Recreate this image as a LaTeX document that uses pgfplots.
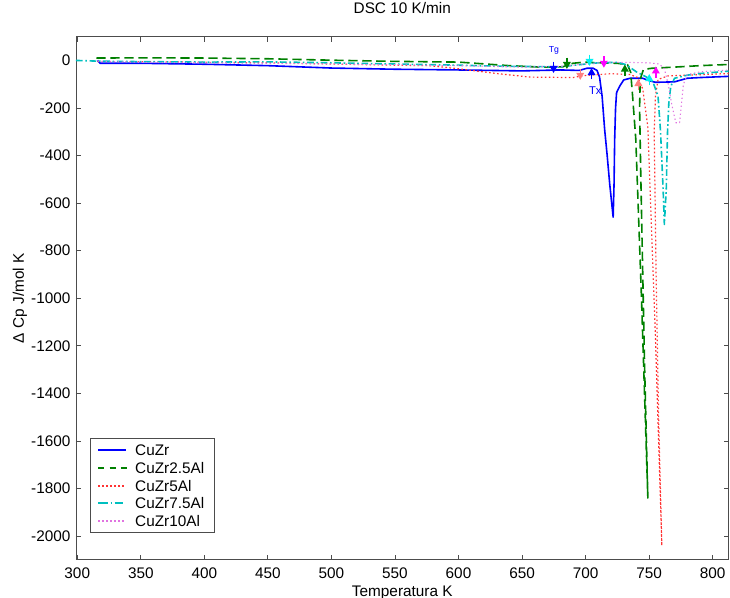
\documentclass[border=0pt]{standalone}
\usepackage{fontspec}
\setmainfont{Liberation Sans}
\usepackage{pgfplots}
\pgfplotsset{compat=1.18}
\usepackage{pgfplotstable}

\definecolor{lineblue}{rgb}{0,0,1}
\definecolor{linegreen}{rgb}{0,0.5,0}
\definecolor{linered}{rgb}{1,0.2,0.2}
\definecolor{linecyan}{rgb}{0,0.75,0.75}
\definecolor{linemag}{rgb}{0.88,0.45,0.88}
\definecolor{markred}{rgb}{1,0.5,0.5}
\definecolor{markcyan}{rgb}{0,0.95,0.95}
\definecolor{markmag}{rgb}{1,0,1}
\definecolor{axgray}{rgb}{0.3,0.3,0.3}

\pgfdeclareplotmark{dnarrow}{%
  \pgfsetlinewidth{1pt}%
  \pgfpathmoveto{\pgfqpoint{0pt}{4.2pt}}\pgfpathlineto{\pgfqpoint{0pt}{0.5pt}}\pgfusepathqstroke
  \pgfpathmoveto{\pgfqpoint{-3pt}{1pt}}\pgfpathlineto{\pgfqpoint{3pt}{1pt}}\pgfpathlineto{\pgfqpoint{0pt}{-4.2pt}}\pgfpathclose\pgfusepathqfill
}
\pgfdeclareplotmark{uparrow}{%
  \pgfsetlinewidth{1pt}%
  \pgfpathmoveto{\pgfqpoint{0pt}{-4.2pt}}\pgfpathlineto{\pgfqpoint{0pt}{-0.5pt}}\pgfusepathqstroke
  \pgfpathmoveto{\pgfqpoint{-3pt}{-1pt}}\pgfpathlineto{\pgfqpoint{3pt}{-1pt}}\pgfpathlineto{\pgfqpoint{0pt}{4.2pt}}\pgfpathclose\pgfusepathqfill
}

\pgfplotstableread{
T y
316 0
318 -12
350 -12
400 -16
450 -22
500 -32
550 -37
600 -40
650 -44
680 -40
695 -42
701 -33
706 -33
709 -42
711 -70
713 -150
715 -290
717 -400
719 -520
721.7 -659
722.4 -520
722.9 -330
723.6 -200
724.4 -135
727 -107
730 -82
735 -75
745 -75
750 -85
755 -92
770 -90
780 -75
790 -72
812.5 -67
}\cuzr

\pgfplotstableread{
T y
315 10
350 11
400 10
450 7
500 1
550 -4
600 -7
640 -22
664 -28
682 -27
690 -12
699 -7
710 -10
725 -12
733 -18
735.5 -50
737 -150
739.5 -330
744 -1000
749 -1840
746.5 -1300
743.5 -500
742.5 -200
743 -80
745.5 -38
752 -33
770 -28
790 -22
812.5 -17
}\cuzrA

\pgfplotstableread{
T y
316 -5
350 -5
400 -8
450 -10
500 -15
550 -20
577 -22
600 -35
630 -55
656 -70
690 -72
700 -63
720 -56
735 -59
741 -72
745 -120
749 -280
755 -1169
760 -2040
757.5 -1500
755.5 -900
754 -300
755 -150
757 -80
765 -65
790 -60
812.5 -55
}\cuzrB

\pgfplotstableread{
T y
299 0
316 -3
350 -5
400 -7
450 -6
500 -10
550 -15
600 -20
630 -24
680 -27
695 -18
710 -10
725 -8
732 -18
740 -48
748 -70
753 -90
757 -150
759 -300
761 -540
762 -690
763.5 -540
764.5 -300
765.5 -180
767 -110
770 -75
780 -62
790 -55
812.5 -45
}\cuzrC

\pgfplotstableread{
T y
316 -3
350 -8
400 -10
450 -12
500 -15
550 -18
600 -22
650 -28
680 -25
700 -15
715 -8
730 -8
750 -10
758 -15
762 -35
765 -100
768 -190
771 -262
774 -262
775.5 -180
777 -100
780 -60
790 -48
812.5 -40
}\cuzrD

\begin{document}
\begin{tikzpicture}
\begin{axis}[
  name=ax,
  scale only axis,
  width=489.5pt, height=392.5pt,
  xmin=299, xmax=812.5, ymin=-2100, ymax=100,
  xtick={300,350,400,450,500,550,600,650,700,750,800},
  xticklabels={300,350,400,450,500,550,600,650,700,750,800},
  ytick={-2000,-1800,-1600,-1400,-1200,-1000,-800,-600,-400,-200,0},
  yticklabels={-2000,-1800,-1600,-1400,-1200,-1000,-800,-600,-400,-200,0},
  tick align=inside,
  major tick length=3.75pt,
  minor tick num=0,
  tick style={axgray, line width=0.6pt},
  axis line style={axgray, line width=0.6pt},
  tick label style={font=\fontsize{11.5}{13}\selectfont, text=black},
  xticklabel style={anchor=base, yshift=-14pt, inner sep=0pt},
  yticklabel style={anchor=east, inner sep=0pt, xshift=-4pt},
  title={DSC 10 K/min},
  title style={at={(0.5,1)}, anchor=base, yshift=11pt, font=\fontsize{11.5}{13}\selectfont},
  xlabel={Temperatura K},
  xlabel style={at={(0.5,0)}, anchor=base, yshift=-27.6pt, font=\fontsize{11.5}{13}\selectfont},
  ylabel={Δ Cp J/mol K},
  ylabel style={at={(-0.0858,0.5)}, anchor=center, font=\fontsize{11.5}{13}\selectfont},
]
\addplot[lineblue, line width=1.2pt, solid, line join=round] table[x=T,y=y] {\cuzr};
\addplot[linegreen, line width=1.2pt, dash pattern=on 7pt off 3.5pt, line join=round] table[x=T,y=y] {\cuzrA};
\addplot[linered, line width=0.9pt, dash pattern=on 1.2pt off 1.8pt, line join=round] table[x=T,y=y] {\cuzrB};
\addplot[linecyan, line width=1.2pt, dash pattern=on 5pt off 2pt on 1.2pt off 2pt, line join=round] table[x=T,y=y] {\cuzrC};
\addplot[linemag, line width=0.8pt, dash pattern=on 1pt off 2pt, line join=round] table[x=T,y=y] {\cuzrD};

% Tg markers (down arrows)
\addplot[only marks, mark=dnarrow, color=lineblue] coordinates {(674.8,-29)};
\addplot[only marks, mark=dnarrow, color=linegreen] coordinates {(685.3,-12)};
\addplot[only marks, mark=dnarrow, color=markred] coordinates {(695.8,-58)};
\addplot[only marks, mark=dnarrow, color=markcyan] coordinates {(703.1,1)};
\addplot[only marks, mark=dnarrow, color=markmag] coordinates {(714.4,-7)};
% Tx markers (up arrows)
\addplot[only marks, mark=uparrow, color=lineblue] coordinates {(704.7,-56)};
\addplot[only marks, mark=uparrow, color=linegreen] coordinates {(730.9,-41)};
\addplot[only marks, mark=uparrow, color=markred] coordinates {(741.5,-102)};
\addplot[only marks, mark=uparrow, color=markcyan] coordinates {(750.1,-81)};
\addplot[only marks, mark=uparrow, color=markmag] coordinates {(755.3,-49)};

\node[text=lineblue, font=\fontsize{6.5}{7}\selectfont, inner sep=0pt] at (axis cs:675.1,40) {Tg};
\node[text=lineblue, font=\fontsize{8.4}{9}\selectfont, inner sep=0pt] at (axis cs:707.7,-127) {Tx};
\end{axis}
% legend drawn by hand
\begin{scope}[shift={(ax.south west)}, font=\fontsize{11.5}{13}\selectfont]
  \draw[axgray, line width=0.6pt, fill=white] (10.5pt,20.8pt) rectangle (103.5pt,90.8pt);
  \draw[lineblue, line width=1.2pt] (16.7pt,82.5pt) -- (37.3pt,82.5pt);
  \foreach \x in {16.7,25.2,33.7} {\draw[linegreen, line width=1.2pt] (\x pt,68.8pt) -- ++(4.6pt,0pt);}
  \foreach \x in {16.7,19.7,22.7,25.7,28.7,31.7,34.7} {\draw[linered, line width=0.9pt] (\x pt,55.5pt) -- ++(1.2pt,0pt);}
  \draw[linecyan, line width=1.2pt] (16.7pt,42.5pt) -- ++(7.5pt,0pt);
  \draw[linecyan, line width=1.2pt] (26pt,42.5pt) -- ++(1.2pt,0pt);
  \draw[linecyan, line width=1.2pt] (29pt,42.5pt) -- ++(6.3pt,0pt);
  \foreach \x in {16.7,19.7,22.7,25.7,28.7,31.7,34.7} {\draw[linemag, line width=0.9pt] (\x pt,29.25pt) -- ++(1.2pt,0pt);}
  \node[anchor=west, inner sep=0pt] at (44.25pt,82.5pt) {CuZr};
  \node[anchor=west, inner sep=0pt] at (44.25pt,68.8pt) {CuZr2.5Al};
  \node[anchor=west, inner sep=0pt] at (44.25pt,55.5pt) {CuZr5Al};
  \node[anchor=west, inner sep=0pt] at (44.25pt,42.5pt) {CuZr7.5Al};
  \node[anchor=west, inner sep=0pt] at (44.25pt,29.25pt) {CuZr10Al};
\end{scope}
\pgfresetboundingbox
\path[use as bounding box] ([shift={(-57pt,-28.5pt)}]ax.south west) rectangle ([shift={(1.1pt,27.5pt)}]ax.north east);
\end{tikzpicture}
\end{document}
